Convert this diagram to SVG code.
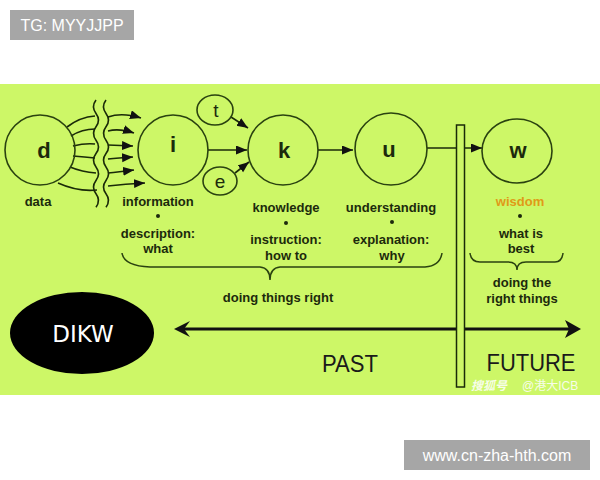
<svg xmlns="http://www.w3.org/2000/svg" width="600" height="480" viewBox="0 0 600 480">
<defs>
<style>
.lbl{font-family:"Liberation Sans",Arial,sans-serif;font-weight:bold;font-size:13px;fill:#1c2a0c;text-anchor:middle}
.node{fill:none;stroke:#2a4210;stroke-width:1.6}
.big{font-family:"Liberation Sans",Arial,sans-serif;font-weight:bold;font-size:22px;fill:#1c2a0c;text-anchor:middle}
.sm{font-family:"Liberation Sans",Arial,sans-serif;font-size:19px;fill:#1c2a0c;text-anchor:middle}
.con{fill:none;stroke:#1a2a08;stroke-width:1.6}
.brace{fill:none;stroke:#2a4210;stroke-width:1.5}
.wm{font-family:"Liberation Sans",Arial,sans-serif;font-size:16px;fill:#ffffff;text-anchor:middle}
</style>
<marker id="ah" markerUnits="userSpaceOnUse" markerWidth="12" markerHeight="10" refX="11" refY="4.5" orient="auto">
<path d="M0,0 L11,4.5 L0,9 z" fill="#111"/>
</marker>
</defs>
<rect width="600" height="480" fill="#ffffff"/>
<rect x="0" y="84" width="600" height="311" fill="#cdf767"/>

<g id="tag-top">
<rect x="10" y="10" width="124" height="30" fill="#a6a6a6"/>
<text class="wm" x="72" y="31">TG: MYYJJPP</text>
</g>
<g id="tag-bottom">
<rect x="404" y="440" width="186" height="30" fill="#a6a6a6"/>
<text class="wm" x="497" y="461">www.cn-zha-hth.com</text>
</g>

<g id="connectors">
<path class="con" d="M96,100 q-5,6.7 0,13.4 q5,6.7 0,13.4 q-5,6.7 0,13.4 q5,6.7 0,13.4 q-5,6.7 0,13.4 q5,6.7 0,13.4 q-5,6.7 0,13.4 q5,6.7 0,13.4"/>
<path class="con" d="M106,100 q-5,6.7 0,13.4 q5,6.7 0,13.4 q-5,6.7 0,13.4 q5,6.7 0,13.4 q-5,6.7 0,13.4 q5,6.7 0,13.4 q-5,6.7 0,13.4 q5,6.7 0,13.4"/>
<path class="con" d="M67,127 Q80,117 95,116"/>
<path class="con" d="M71,136 Q82,129 95,129"/>
<path class="con" d="M73,146 Q85,143 95,144"/>
<path class="con" d="M73,156 Q85,157 95,158"/>
<path class="con" d="M70,167 Q82,172 96,173"/>
<path class="con" d="M58,183 Q78,192 97,190"/>
<path class="con" d="M108,117 Q122,112 141,118" marker-end="url(#ah)"/>
<path class="con" d="M108,131 Q119,128 134,133" marker-end="url(#ah)"/>
<path class="con" d="M108,145 L133,146" marker-end="url(#ah)"/>
<path class="con" d="M108,159 Q118,158 133,157" marker-end="url(#ah)"/>
<path class="con" d="M108,173 Q118,172 134,170" marker-end="url(#ah)"/>
<path class="con" d="M108,186 Q125,184 145,183" marker-end="url(#ah)"/>
<line class="con" x1="208" y1="150" x2="247" y2="150" stroke-width="2.5" marker-end="url(#ah)"/>
<line class="con" x1="231" y1="117" x2="248" y2="128" marker-end="url(#ah)"/>
<line class="con" x1="235" y1="173" x2="249" y2="162" marker-end="url(#ah)"/>
<line class="con" x1="318" y1="150" x2="353" y2="150" stroke-width="2" marker-end="url(#ah)"/>
<line class="con" x1="427" y1="148" x2="482" y2="148" marker-end="url(#ah)"/>
<line x1="180" y1="329" x2="574" y2="329" stroke="#111" stroke-width="3"/>
<path d="M174,329 L190,321 L184,329 L190,337 z" fill="#111"/>
<path d="M581,329 L565,320 L569,329 L565,338 z" fill="#111"/>
</g>

<g id="bar">
<rect x="456.5" y="125" width="8" height="262" fill="#cdf767" stroke="#1a2a08" stroke-width="1.5"/>
</g>

<g id="node-d">
<circle class="node" cx="40" cy="150" r="35"/>
<text class="big" x="44" y="158">d</text>
<text class="lbl" x="38" y="206">data</text>
</g>
<g id="node-i">
<circle class="node" cx="173" cy="150" r="35"/>
<text class="big" x="173" y="152">i</text>
<text class="lbl" x="158" y="206">information</text>
<circle cx="158" cy="216" r="2" fill="#1c2a0c"/>
<text class="lbl" x="158" y="238">description:</text>
<text class="lbl" x="158" y="253">what</text>
</g>
<g id="node-t">
<ellipse class="node" cx="215" cy="110" rx="18" ry="15"/>
<text class="sm" x="216" y="117">t</text>
</g>
<g id="node-e">
<ellipse class="node" cx="220" cy="181" rx="17" ry="14"/>
<text class="sm" x="220" y="188">e</text>
</g>
<g id="node-k">
<circle class="node" cx="283" cy="150" r="35"/>
<text class="big" x="284" y="158">k</text>
<text class="lbl" x="286" y="212">knowledge</text>
<circle cx="286" cy="223" r="2" fill="#1c2a0c"/>
<text class="lbl" x="286" y="244">instruction:</text>
<text class="lbl" x="286" y="260">how to</text>
</g>
<g id="node-u">
<circle class="node" cx="391" cy="149" r="36"/>
<text class="big" x="389" y="157">u</text>
<text class="lbl" x="391" y="212">understanding</text>
<circle cx="392" cy="222" r="2" fill="#1c2a0c"/>
<text class="lbl" x="391" y="244">explanation:</text>
<text class="lbl" x="392" y="260">why</text>
</g>
<g id="node-w">
<ellipse class="node" cx="517" cy="151" rx="35" ry="32"/>
<text class="big" x="518" y="158">w</text>
<text class="lbl" x="520" y="206" style="fill:#e09a18">wisdom</text>
<circle cx="520" cy="216" r="2" fill="#1c2a0c"/>
<text class="lbl" x="521" y="238">what is</text>
<text class="lbl" x="521" y="253">best</text>
</g>

<g id="brace-left">
<path class="brace" d="M122,253 Q124,266 150,267 L260,267 Q270,268 270,280 Q270,268 280,267 L425,267 Q440,266 442,253"/>
<text class="lbl" x="278" y="302">doing things right</text>
</g>
<g id="brace-right">
<path class="brace" d="M470,253 Q471,262 480,262 L508,262 Q517,262 517,270 Q517,262 526,262 L555,262 Q562,262 563,253"/>
<text class="lbl" x="522" y="287">doing the</text>
<text class="lbl" x="522" y="303">right things</text>
</g>

<g id="dikw">
<ellipse cx="82" cy="333" rx="72" ry="41" fill="#000"/>
<text x="83" y="342" font-family="'DejaVu Sans','Liberation Sans',sans-serif" font-size="23" fill="#fff" text-anchor="middle">DIKW</text>
</g>

<text x="350" y="372" font-family="'Liberation Sans',Arial,sans-serif" font-size="24" fill="#1a1a1a" text-anchor="middle" textLength="56" lengthAdjust="spacingAndGlyphs">PAST</text>
<text x="531" y="371" font-family="'Liberation Sans',Arial,sans-serif" font-size="24" fill="#1a1a1a" text-anchor="middle" textLength="89" lengthAdjust="spacingAndGlyphs">FUTURE</text>

<g id="watermark" opacity="0.85">
<text x="471" y="390" font-family="'Noto Sans CJK SC',sans-serif" font-size="12" font-weight="bold" font-style="italic" fill="#ffffff">搜狐号</text>
<text x="522" y="390" font-family="'Liberation Sans','Noto Sans CJK SC',sans-serif" font-size="12" fill="#ffffff">@港大ICB</text>
</g>
</svg>
